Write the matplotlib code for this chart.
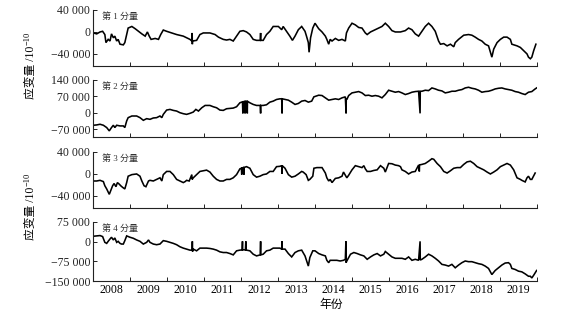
import matplotlib
matplotlib.use("Agg")
import matplotlib.pyplot as plt
from matplotlib.ticker import FixedLocator, FuncFormatter, NullFormatter

plt.rcParams['font.family'] = ['Liberation Serif', 'Noto Sans CJK SC', 'DejaVu Sans']

# ---------------- data (decimal year, strain 1e-10) ----------------
t1 = [2008.01, 2008.10, 2008.19, 2008.26, 2008.32, 2008.35, 2008.41, 2008.46, 2008.50, 2008.55,
      2008.59, 2008.64, 2008.68, 2008.73, 2008.82, 2008.86, 2008.91, 2008.95, 2009.05, 2009.14,
      2009.23, 2009.32, 2009.41, 2009.47, 2009.52, 2009.57, 2009.68, 2009.77, 2009.83, 2009.90,
      2009.99, 2010.13, 2010.26, 2010.44, 2010.62, 2010.67, 2010.68, 2010.685, 2010.69, 2010.80,
      2010.89, 2010.98, 2011.16, 2011.30, 2011.39, 2011.52, 2011.61, 2011.70, 2011.79, 2011.88,
      2011.97, 2012.06, 2012.15, 2012.24, 2012.33, 2012.42, 2012.52, 2012.53, 2012.535, 2012.60,
      2012.69, 2012.78, 2012.87, 2013.01, 2013.10, 2013.14, 2013.23, 2013.32, 2013.39, 2013.46,
      2013.55, 2013.64, 2013.73, 2013.77, 2013.82, 2013.84, 2013.88, 2013.94, 2014.00,
      2014.10, 2014.19, 2014.28, 2014.32, 2014.37, 2014.41, 2014.46, 2014.55, 2014.64, 2014.73,
      2014.82, 2014.85, 2014.91, 2015.00, 2015.09, 2015.18, 2015.27, 2015.36, 2015.41, 2015.50,
      2015.63, 2015.72, 2015.81, 2015.90, 2015.99, 2016.08, 2016.17, 2016.31, 2016.44, 2016.53,
      2016.62, 2016.71, 2016.80, 2016.89, 2016.98, 2017.07, 2017.16, 2017.25, 2017.34, 2017.39,
      2017.48, 2017.57, 2017.66, 2017.75, 2017.79, 2017.88, 2018.02, 2018.15, 2018.24, 2018.33,
      2018.42, 2018.51, 2018.60, 2018.69, 2018.78, 2018.83, 2018.92, 2019.01, 2019.10, 2019.19,
      2019.28, 2019.32, 2019.46, 2019.55, 2019.64, 2019.73, 2019.77, 2019.82, 2019.86, 2019.91,
      2019.97]
v1 = [-1800, -3500, 0, 1200, -4700, -19400, -13500, -16500, -3500, -10600,
      -7600, -16500, -13500, -22300, -23500, -19400, -4700, 7100, 10000, 5900,
      1200, -3500, -7600, 0, -7600, -13500, -11800, -13500, -4700, 3500,
      1200, -1800, -4700, -7600, -13500, -16500, -1800, -22300, -16500, -15300,
      -4700, -1800, -1800, -4700, -9400, -13500, -14700, -13500, -16500, -7600,
      1200, 2400, 0, -4700, -13500, -15300, -15300, -1800, -15300, -15300,
      -4700, 1200, 10000, 10000, 4100, 10000, 1200, -7600, -15300, -7600,
      4100, 10000, 1200, -7600, -19400, -37000, -10600, 7100, 15900,
      5900, 0, -7600, -13500, -22300, -13500, -16500, -11800, -15300, -13500,
      -16500, -1800, 7100, 15900, 12900, 8200, 7100, -1800, -4700, 0,
      4100, 7100, 10000, 15900, 10000, 2400, 0, 0, 2400, 7100,
      4100, -3500, -7600, 1200, 10000, 15900, 10000, 1200, -16500, -22300,
      -21200, -25300, -22300, -27000, -19400, -13500, -5900, -4700, -5900, -9400,
      -13500, -16500, -22300, -25300, -45900, -31200, -19400, -13500, -9400, -9400,
      -13500, -22300, -25300, -28200, -34100, -40000, -45900, -48800, -45900, -34100,
      -22300]

t2 = [2008.01, 2008.10, 2008.19, 2008.28, 2008.37, 2008.44, 2008.50, 2008.55, 2008.59, 2008.64,
      2008.73, 2008.82, 2008.86, 2008.91, 2008.95, 2009.05, 2009.18, 2009.27, 2009.36, 2009.45,
      2009.54, 2009.63, 2009.72, 2009.81, 2009.86, 2009.90, 2009.99, 2010.08, 2010.17, 2010.26,
      2010.35, 2010.44, 2010.53, 2010.62, 2010.71, 2010.78, 2010.85, 2010.94, 2011.03, 2011.16,
      2011.25, 2011.34, 2011.43, 2011.52, 2011.61, 2011.70, 2011.79, 2011.88, 2011.97, 2012.04,
      2012.05, 2012.055, 2012.10, 2012.11, 2012.115, 2012.16, 2012.17, 2012.175, 2012.24, 2012.33,
      2012.42, 2012.52, 2012.53, 2012.535, 2012.60, 2012.69, 2012.78, 2012.87, 2012.96, 2013.05,
      2013.10, 2013.11, 2013.115, 2013.19, 2013.28, 2013.37, 2013.46, 2013.55, 2013.64, 2013.73,
      2013.82, 2013.91, 2013.97,
      2014.10, 2014.19, 2014.28, 2014.37, 2014.46, 2014.55, 2014.64, 2014.73, 2014.82, 2014.84,
      2014.845, 2014.86, 2014.91, 2015.00, 2015.09, 2015.18, 2015.27, 2015.36, 2015.45, 2015.54,
      2015.63, 2015.72, 2015.81, 2015.90, 2015.99, 2016.08, 2016.17, 2016.26, 2016.35, 2016.44,
      2016.53, 2016.62, 2016.71, 2016.80, 2016.84, 2016.845, 2016.89, 2016.98, 2017.07, 2017.16,
      2017.25, 2017.34, 2017.43, 2017.52, 2017.61, 2017.70, 2017.79, 2017.88, 2017.97, 2018.06,
      2018.15, 2018.24, 2018.33, 2018.42, 2018.51, 2018.60, 2018.69, 2018.78, 2018.87, 2018.96,
      2019.05, 2019.14, 2019.23, 2019.32, 2019.41, 2019.50, 2019.59, 2019.68, 2019.77, 2019.86,
      2019.95, 2019.99]
v2 = [-53700, -52300, -49500, -53700, -63600, -77800, -63600, -53700, -63600, -53700,
      -56600, -56600, -63600, -35400, -21200, -14100, -14100, -21200, -32500, -25500,
      -28300, -22600, -21200, -14100, -21200, -7100, 11300, 14100, 9900, 7100,
      0, -4200, -7100, -2800, 2800, 14100, 7100, 21200, 31100, 31100,
      25500, 21200, 11300, 9900, 17000, 18400, 19800, 25500, 42400, 46700,
      -2800, 47000, 48100, -2800, 48500, 49500, -2800, 49000, 42400, 35400,
      31100, 31100, -2800, 31100, 31100, 33900, 45200, 49500, 56600, 59400,
      59400, -2800, 59400, 56600, 53700, 45200, 35400, 39600, 49500, 52300,
      45200, 49500, 67900,
      74900, 73500, 63600, 53700, 56600, 59400, 56600, 63600, 67900, -2800,
      60000, 56600, 73500, 84800, 87700, 90500, 84800, 73500, 74900, 70700,
      73500, 70700, 63600, 77800, 96200, 91900, 87700, 90500, 84800, 77800,
      82000, 87700, 90500, 91900, -2800, 91900, 91900, 96200, 94700, 106000,
      101800, 96200, 93300, 84800, 87700, 91900, 91900, 96200, 99000, 106000,
      108900, 104600, 101800, 96200, 87700, 90500, 91900, 96200, 101800, 104600,
      106000, 101800, 99000, 96200, 90500, 87700, 82000, 77800, 87700, 90500,
      101800, 106000]

t3 = [2008.01, 2008.10, 2008.19, 2008.28, 2008.32, 2008.37, 2008.41, 2008.44, 2008.48, 2008.53,
      2008.57, 2008.62, 2008.66, 2008.71, 2008.75, 2008.80, 2008.86, 2008.91, 2008.95, 2009.05,
      2009.18, 2009.27, 2009.32, 2009.38, 2009.43, 2009.50, 2009.54, 2009.63, 2009.72, 2009.81,
      2009.86, 2009.90, 2009.99, 2010.08, 2010.17, 2010.26, 2010.35, 2010.44, 2010.49, 2010.53,
      2010.60, 2010.67, 2010.68, 2010.71, 2010.80, 2010.89, 2010.98, 2011.07, 2011.16, 2011.25,
      2011.34, 2011.43, 2011.52, 2011.61, 2011.70, 2011.79, 2011.88, 2011.97, 2012.01, 2012.02,
      2012.025, 2012.06, 2012.08, 2012.085, 2012.15, 2012.24, 2012.33, 2012.42, 2012.51, 2012.60,
      2012.69, 2012.78, 2012.87, 2012.96, 2013.05, 2013.10, 2013.11, 2013.115, 2013.19, 2013.28,
      2013.37, 2013.46, 2013.55, 2013.64, 2013.68, 2013.76, 2013.82, 2013.86, 2013.94, 2013.97,
      2014.05, 2014.19, 2014.28, 2014.32, 2014.37, 2014.41, 2014.46, 2014.55, 2014.64, 2014.73,
      2014.77, 2014.82, 2014.86, 2014.91, 2015.00, 2015.09, 2015.18, 2015.27, 2015.32, 2015.36,
      2015.41, 2015.50, 2015.59, 2015.68, 2015.77, 2015.86, 2015.90, 2015.99, 2016.08, 2016.17,
      2016.26, 2016.31, 2016.35, 2016.44, 2016.53, 2016.62, 2016.71, 2016.80, 2016.82, 2016.825,
      2016.89, 2016.98, 2017.07, 2017.16, 2017.21, 2017.30, 2017.39, 2017.48, 2017.57, 2017.66,
      2017.75, 2017.84, 2017.93, 2018.02, 2018.11, 2018.20, 2018.29, 2018.38, 2018.47, 2018.56,
      2018.65, 2018.74, 2018.83, 2018.92, 2019.01, 2019.10, 2019.19, 2019.28, 2019.37, 2019.46,
      2019.55, 2019.59, 2019.68, 2019.73, 2019.77, 2019.82, 2019.86, 2019.95]
v3 = [-12800, -12800, -11600, -13900, -21500, -27300, -33100, -37100, -30200, -21500,
      -17400, -23200, -15700, -18600, -21500, -24400, -27300, -15700, -4100, -1200,
      0, -4100, -12800, -21500, -23200, -12800, -11600, -12800, -9900, -7000,
      -12800, -1200, 4600, 4600, -1200, -9900, -12800, -15700, -13900, -11600,
      -12800, -1200, -10000, -7000, -1200, 4600, 5800, 7000, 3500, -4100,
      -9900, -12800, -12800, -9900, -9900, -7000, -1200, 9300, 10500, -1200,
      11000, 11600, -1200, 12000, 13300, 10400, -1200, -5800, -4100, -1200,
      0, 4600, 4600, 13300, 13900, 15100, 0, 15000, 10400, -1200,
      -5800, -4100, 0, 4600, 3500, -1200, -11600, -9900, -4100, 10400,
      11600, 11600, 1700, -7000, -12800, -9900, -15700, -8100, -7000, -4100,
      3500, -2300, -7000, -2300, 7500, 15100, 13300, 11600, 15100, 9300,
      4600, 4600, 6400, 7500, 15100, 10400, 3500, 19100, 18600, 16200,
      15100, 13300, 7500, 4600, 0, 3500, 4600, 16200, 4600, 16500,
      17400, 19100, 23200, 27800, 26700, 19100, 13300, 4600, 1700, 5800,
      10400, 11600, 11600, 17400, 22000, 23200, 19100, 13300, 10400, 7500,
      3500, 0, 3500, 7500, 13300, 16200, 19100, 16200, 7500, -7000,
      -9900, -11600, -14500, -7000, -4100, -9900, -9900, 1700]

t4 = [2008.01, 2008.10, 2008.19, 2008.26, 2008.32, 2008.37, 2008.41, 2008.46, 2008.50, 2008.55,
      2008.59, 2008.64, 2008.68, 2008.73, 2008.77, 2008.82, 2008.86, 2008.91, 2009.00, 2009.09,
      2009.18, 2009.27, 2009.36, 2009.45, 2009.50, 2009.54, 2009.63, 2009.72, 2009.81, 2009.90,
      2009.99, 2010.08, 2010.17, 2010.26, 2010.35, 2010.44, 2010.53, 2010.62, 2010.68, 2010.685,
      2010.69, 2010.71, 2010.80, 2010.89, 2010.98, 2011.07, 2011.16, 2011.25, 2011.34, 2011.43,
      2011.52, 2011.61, 2011.70, 2011.79, 2011.88, 2011.97, 2012.03, 2012.04, 2012.045, 2012.06,
      2012.12, 2012.13, 2012.135, 2012.15, 2012.24, 2012.33, 2012.42, 2012.52, 2012.53, 2012.535,
      2012.60, 2012.69, 2012.78, 2012.87, 2012.96, 2013.05, 2013.10, 2013.11, 2013.115, 2013.19,
      2013.28, 2013.37, 2013.46, 2013.55, 2013.64, 2013.73, 2013.82, 2013.86, 2013.94, 2014.00,
      2014.10, 2014.19, 2014.28, 2014.32, 2014.37, 2014.41, 2014.50, 2014.59, 2014.68, 2014.77,
      2014.82, 2014.835, 2014.84, 2014.86, 2014.96, 2015.05, 2015.14, 2015.23, 2015.32, 2015.41,
      2015.50, 2015.59, 2015.68, 2015.77, 2015.86, 2015.90, 2015.99, 2016.08, 2016.17, 2016.26,
      2016.35, 2016.44, 2016.53, 2016.62, 2016.71, 2016.80, 2016.84, 2016.845, 2016.89, 2016.98,
      2017.07, 2017.16, 2017.25, 2017.34, 2017.43, 2017.52, 2017.61, 2017.70, 2017.79, 2017.88,
      2017.97, 2018.06, 2018.15, 2018.24, 2018.33, 2018.42, 2018.51, 2018.60, 2018.69, 2018.78,
      2018.87, 2018.96, 2019.05, 2019.14, 2019.23, 2019.28, 2019.32, 2019.41, 2019.50, 2019.59,
      2019.68, 2019.77, 2019.82, 2019.86, 2019.91, 2019.99]
v4 = [20700, 22000, 23300, 19400, -2600, -6500, 1300, 10300, 16800, 6500,
      14200, -2600, 1300, -6500, -9100, -9100, 3900, 22000, 16800, 12900,
      6500, 1300, -9100, -2600, 6500, -2600, -9100, -11600, -9100, 3900,
      1300, -2600, -6500, -11600, -19400, -24600, -28400, -32300, -32300, 1300,
      -37500, -28400, -34900, -24600, -24600, -24600, -25900, -28400, -32300, -38800,
      -41400, -41400, -45300, -50400, -34900, -32300, -31500, 1300, -31500, -31000,
      -31500, 1300, -32000, -32300, -34900, -47800, -54300, -50400, 1300, -50400,
      -47800, -34900, -32300, -24600, -24600, -24600, -28400, 1300, -28400, -28400,
      -45300, -58200, -41400, -34900, -32300, -54300, -93100, -60800, -34900, -34900,
      -45300, -50400, -54300, -71100, -80200, -71100, -71100, -71100, -73700, -71100,
      -67200, 1300, -80200, -73700, -47800, -41400, -45300, -50400, -54300, -67200,
      -58200, -50400, -45300, -54300, -47800, -37500, -47800, -58200, -63400, -63400,
      -63400, -67200, -58200, -71100, -67200, -71100, 1300, -70000, -67200, -58200,
      -47800, -54300, -63400, -73700, -86600, -89200, -93100, -86600, -99600, -89200,
      -80200, -73700, -76300, -76300, -80200, -84000, -86600, -93100, -102100, -125400,
      -109900, -99600, -89200, -81500, -80200, -86600, -102100, -106000, -112500, -115100,
      -122800, -131900, -131900, -138400, -128000, -109900]

series_t = [t1, t2, t3, t4]
series_v = [v1, v2, v3, v4]
panel_names = ["第 1 分量", "第 2 分量", "第 3 分量", "第 4 分量"]
yticks = [[-40000, 0, 40000],
          [-70000, 0, 70000, 140000],
          [-40000, 0, 40000],
          [-150000, -75000, 0, 75000]]
ylims = [(-62000, 40000), (-104000, 140000), (-62000, 40000), (-150000, 75000)]
years = list(range(2008, 2020))
ylabel_main = "应变量 /10"
ylabel_sup = "\u221210"
xlabel_text = "年份"

# ---------------- layout ----------------
W, H = 572, 321
fig = plt.figure(figsize=(W / 100, H / 100), dpi=100)
left = 93 / W
width = 444 / W
panel_px = [(10, 66), (80, 137), (152, 208), (222, 281)]


def fmt(v, pos=None):
    s = f"{abs(int(v)):,}".replace(",", " ")
    return ("\u2212" + s) if v < 0 else s


axes = []
for i in range(4):
    top, bot = panel_px[i]
    ax = fig.add_axes([left, 1 - bot / H, width, (bot - top) / H])
    axes.append(ax)
    ax.plot(series_t[i], series_v[i], color="black", lw=1.15, solid_joinstyle="miter")
    ax.set_xlim(2008, 2020)
    ax.set_ylim(*ylims[i])
    for s in ("top", "right"):
        ax.spines[s].set_visible(False)
    for s in ("left", "bottom"):
        ax.spines[s].set_linewidth(0.8)
        ax.spines[s].set_color("#222222")
    ax.yaxis.set_major_locator(FixedLocator(yticks[i]))
    ax.yaxis.set_major_formatter(FuncFormatter(fmt))
    ax.xaxis.set_major_locator(FixedLocator(years + [2020]))
    ax.xaxis.set_major_formatter(NullFormatter())
    ax.xaxis.set_minor_locator(FixedLocator([y + 0.5 for y in years]))
    if i == 3:
        ax.xaxis.set_minor_formatter(FuncFormatter(lambda v, p: str(int(v))))
    else:
        ax.xaxis.set_minor_formatter(NullFormatter())
    ax.tick_params(axis="both", which="major", direction="in", length=3, width=0.7,
                   labelsize=8.5, pad=2, colors="#222222")
    ax.tick_params(axis="x", which="minor", length=0, labelsize=8.5, pad=2.5)
    ax.text(0.02, 0.97, panel_names[i], transform=ax.transAxes, ha="left", va="top",
            fontsize=6.5, color="#333333")

for yc in (72, 213):
    main = fig.text(31 / W, 1 - yc / H, ylabel_main, rotation=90, ha="center", va="center",
                    fontsize=8.5)
    axes[0].annotate(ylabel_sup, xy=(0.55, 1.0), xycoords=main, rotation=90,
                     ha="right", va="bottom", fontsize=6, annotation_clip=False)

fig.text(331 / W, 1 - 305 / H, xlabel_text, ha="center", va="center", fontsize=8.5)

fig.savefig("out.png", dpi=100)
